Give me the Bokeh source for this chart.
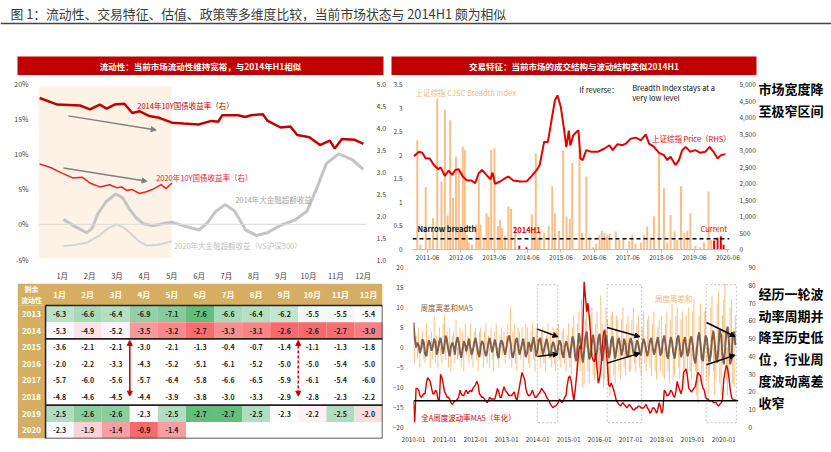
import pandas as pd
from bokeh.plotting import figure
from bokeh.models import (Range1d, LinearAxis, BoxAnnotation, Arrow, NormalHead, Span,
                          FixedTicker, NumeralTickFormatter, PrintfTickFormatter)
from bokeh.layouts import row, column
from bokeh.embed import file_html
from bokeh.resources import INLINE
from bokeh.core.properties import value

FONT = "Noto Sans CJK SC"

# ---------------- data ----------------
title_text = "图 1：流动性、交易特征、估值、政策等多维度比较，当前市场状态与 2014H1 颇为相似"
head_left = "流动性：当前市场流动性维持宽裕，与2014年H1相似"
head_right = "交易特征：当前市场的成交结构与波动结构类似2014H1"

month_labels = ["1月", "2月", "3月", "4月", "5月", "6月", "7月", "8月", "9月", "10月", "11月", "12月"]
pct_ticks = [-5, 0, 5, 10, 15, 20]
yld_ticks = [1.0, 1.5, 2.0, 2.5, 3.0, 3.5, 4.0, 4.5, 5.0]

# 2014 10Y yield (right axis), x = month position
y14_m = [0.17, 0.82, 1.65, 2.01, 2.37, 2.62, 2.91, 3.27, 3.56, 3.82, 4.18, 4.54, 5.01, 5.44, 5.98, 6.45, 6.70,
         6.85, 7.43, 7.68, 7.90, 8.33, 8.51, 8.98, 9.34, 9.59, 10.03, 10.42, 10.78, 10.96, 11.22, 11.69, 12.01]
y14_v = [4.67, 4.52, 4.50, 4.41, 4.52, 4.43, 4.52, 4.54, 4.33, 4.37, 4.26, 4.22, 4.11, 4.09, 4.07, 4.15, 4.13,
         4.28, 4.28, 4.24, 4.28, 4.30, 4.15, 4.00, 4.02, 3.83, 3.78, 3.60, 3.70, 3.52, 3.74, 3.72, 3.63]
# 2020 10Y yield (right axis)
y20_m = [0.17, 0.57, 0.93, 1.40, 1.72, 2.01, 2.37, 2.73, 2.99, 3.17, 3.35, 3.56, 3.82, 4.07, 4.29, 4.61, 4.79, 5.01]
y20_v = [3.17, 3.09, 2.98, 2.85, 2.87, 2.74, 2.65, 2.70, 2.63, 2.65, 2.57, 2.59, 2.50, 2.54, 2.59, 2.70, 2.61, 2.74]
# 2014 financials excess return (%)
f14_m = [1.04, 1.5, 1.9, 2.1, 2.3, 2.6, 2.95, 3.2, 3.45, 3.7, 3.95, 4.3, 4.7, 5.0, 5.5, 6.0, 6.3, 6.6, 6.95, 7.3,
         7.7, 8.1, 8.5, 9.0, 9.5, 9.95, 10.3, 10.65, 11.1, 11.6, 12.0]
f14_v = [0.7, -0.4, -1.2, -0.5, 1.5, 3.2, 4.3, 3.8, 2.2, 0.9, 0.1, -0.2, 0.1, 0.3, -0.3, -0.8, 0.2, 1.8, 2.8, 1.9,
         -0.8, -1.6, -1.2, -0.1, 0.6, 1.9, 5.1, 8.6, 10.0, 9.2, 7.8]
# 2020 financials excess return vs CSI300 (%)
f20_m = [1.04, 1.5, 1.9, 2.35, 2.7, 2.99, 3.25, 3.5, 3.8, 4.07, 4.5, 5.0]
f20_v = [-3.1, -2.9, -2.6, -1.6, -0.5, 0.0, -0.5, -1.3, -2.4, -3.0, -2.9, -2.4]

# residual liquidity table
tbl_years = ["2013", "2014", "2015", "2016", "2017", "2018", "2019", "2020"]
tbl_2013 = [-6.3, -6.6, -6.4, -6.9, -7.1, -7.6, -6.6, -6.4, -6.2, -5.5, -5.5, -5.4]
tbl_2014 = [-5.3, -4.9, -5.2, -3.5, -3.2, -2.7, -3.3, -3.1, -2.6, -2.6, -2.7, -3.0]
tbl_2015 = [-3.6, -2.1, -2.1, -3.0, -2.1, -1.3, -0.4, -0.7, -1.4, -1.1, -1.3, -1.8]
tbl_2016 = [-2.0, -2.2, -3.3, -4.3, -5.2, -5.1, -6.1, -5.2, -5.0, -5.0, -5.4, -5.0]
tbl_2017 = [-5.7, -6.0, -5.6, -5.7, -6.4, -5.8, -6.6, -6.5, -5.9, -6.1, -5.4, -6.0]
tbl_2018 = [-4.8, -4.6, -4.5, -4.4, -3.9, -3.8, -3.0, -3.3, -2.9, -2.8, -2.3, -2.2]
tbl_2019 = [-2.5, -2.6, -2.6, -2.3, -2.5, -2.7, -2.7, -2.5, -2.3, -2.2, -2.5, -2.0]
tbl_2020 = [-2.3, -1.9, -1.4, -0.9, -1.4]

# breadth index bars (left axis)
br_dates = ["2011-02-10", "2011-03-14", "2011-05-12", "2011-06-25", "2011-08-01", "2011-09-16", "2011-11-02", "2011-12-08",
            "2012-01-08", "2012-02-06", "2012-03-06", "2012-04-08", "2012-05-08", "2012-05-26", "2012-06-21", "2012-07-13",
            "2012-08-08", "2012-08-26", "2012-10-01", "2012-11-18", "2012-12-14",
            "2013-01-01", "2013-02-07", "2013-03-08", "2013-03-30", "2013-04-28", "2013-06-03", "2013-07-10", "2013-08-04",
            "2013-08-26", "2013-09-28", "2013-11-03", "2013-12-02",
            "2014-01-15", "2014-07-17", "2014-08-15", "2014-08-30", "2014-09-20", "2014-10-12", "2014-11-29",
            "2015-01-19", "2015-02-25", "2015-03-26", "2015-05-09", "2015-06-25", "2015-08-01", "2015-09-06", "2015-10-02",
            "2015-12-21",
            "2016-01-19", "2016-03-04", "2016-04-09", "2016-05-16", "2016-06-21", "2016-07-27", "2016-08-22", "2016-09-20",
            "2016-10-19", "2016-11-14",
            "2017-01-23", "2017-02-28", "2017-04-13", "2017-06-18", "2017-07-20", "2017-08-26", "2017-10-23", "2017-11-25",
            "2018-01-01", "2018-02-07", "2018-03-15", "2018-05-09", "2018-07-02", "2018-08-08", "2018-09-13", "2018-10-27",
            "2018-11-25",
            "2019-01-05", "2019-02-10", "2019-03-15", "2019-04-16", "2019-06-11", "2019-08-04", "2019-09-13", "2019-11-03",
            "2019-12-02"]
br_vals = [2.32, 0.10, 1.32, 0.25, 0.67, 3.20, 1.44, 2.97,
           0.72, 2.74, 1.10, 1.97, 1.72, 0.38, 2.18, 2.11, 0.30, 0.15, 0.10, 0.53, 1.51,
           0.53, 0.20, 0.77, 0.70, 2.11, 2.15, 0.50, 0.63, 0.45, 0.28, 0.91, 0.86,
           0.49, 0.74, 0.38, 2.04, 0.25, 0.38, 0.35,
           0.50, 1.34, 0.77, 0.40, 2.10, 0.70, 0.65, 1.84, 2.11,
           0.35, 1.55, 0.26, 0.05, 0.12, 0.30, 0.40, 0.35, 0.30, 0.33,
           0.38, 0.20, 0.25, 0.18, 0.30, 0.12, 0.15, 0.30,
           0.49, 0.25, 0.70, 2.07, 1.30, 0.15, 0.73, 0.38, 0.20,
           1.34, 0.35, 0.40, 0.77, 0.08, 0.05, 0.15, 1.23, 0.20]
br_red_dates = ["2014-03-01", "2014-05-20", "2020-01-03", "2020-02-10", "2020-03-16", "2020-04-15"]
br_red_vals = [0.08, 0.05, 0.19, 0.25, 0.28, 0.10]
narrow_level = 0.23

# Shanghai composite price (right axis)
px_dates = ["2011-01-05", "2011-02-28", "2011-04-05", "2011-05-12", "2011-06-25", "2011-08-10", "2011-09-27", "2011-10-23", "2011-12-08",
            "2012-01-20", "2012-02-25", "2012-04-01", "2012-05-08", "2012-06-21", "2012-08-08", "2012-09-24", "2012-11-06", "2012-12-14",
            "2013-01-20", "2013-02-25", "2013-04-20", "2013-05-12", "2013-06-10", "2013-08-04", "2013-09-28", "2013-11-03", "2013-12-28",
            "2014-03-10", "2014-05-23", "2014-07-17", "2014-09-10", "2014-10-12", "2014-11-29",
            "2015-01-10", "2015-02-18", "2015-03-26", "2015-04-23", "2015-05-30", "2015-07-01", "2015-07-30", "2015-08-26",
            "2015-09-12", "2015-10-12", "2015-11-18", "2015-12-10",
            "2016-01-01", "2016-01-26", "2016-03-04", "2016-04-28", "2016-07-08", "2016-09-20", "2016-11-14", "2016-12-20",
            "2017-02-10", "2017-04-05", "2017-05-12", "2017-07-05", "2017-08-30", "2017-10-23", "2017-12-16",
            "2018-01-22", "2018-03-15", "2018-05-09", "2018-07-02", "2018-08-08", "2018-09-13", "2018-11-06", "2018-12-14",
            "2019-01-20", "2019-02-25", "2019-04-16", "2019-06-11", "2019-08-04", "2019-09-28", "2019-11-14", "2019-12-28",
            "2020-02-10", "2020-03-18", "2020-05-05"]
px_vals = [2830, 2960, 2932, 2760, 2760, 2560, 2430, 2490, 2230,
           2390, 2260, 2410, 2430, 2210, 2090, 2090, 2010, 2310,
           2410, 2290, 2130, 2330, 1990, 2060, 2160, 2210, 2090,
           2060, 2070, 2230, 2410, 2560, 3260,
           3260, 3920, 4520, 4670, 4320, 3700, 3100, 3600, 3150, 3450, 3560, 3610,
           2760, 2710, 3010, 2960, 2960, 3060, 3160, 3010,
           3190, 3160, 3210, 3360, 3390, 3310, 3490,
           3210, 3110, 2930, 2860, 2710, 2810, 2560, 2710,
           3010, 3110, 2960, 3010, 2930, 2960, 3110, 2960,
           2760, 2860, 2890]

# weekly-style series, sampled twice a month from 2010-01
disp_start = "2010-01-01"
disp_sum = [6, -4, 3, -3, 5, -5, 2, 4, -3, -4, 6, -2, 3, -5, 4, -3, 8, -4, 3, -5, 5, -2, -4, 6,
            8, -3, 4, -5, 5, -6, 3, 4, -4, 7, -3, -2, 5, -5, 4, -6, 6, -2, 3, -4, 6, -3, -5, 4,
            5, -3, -6, 4, 5, -2, -5, 4, 6, -4, 3, -5, 5, -3, -6, 4, 6, -3, -5, 3, 5, -2, 4, -4,
            3, 6, -3, 10, -5, 4, 6, -4, -6, 5, 4, -3, 5, -6, -2, 6, 5, -4, -5, 4, 6, -3, -6, 5,
            6, -2, -5, 4, 5, -4, -6, 3, 6, -3, 4, -5, 5, -4, -6, 5, 6, -3, -5, 4, 5, -4, -6, 3,
            6, -5, -7, 5, 8, -4, -8, 6, 9, -6, 12, -10, -9, 7, 11, -6, -9, 8, 10, -7, -8, 6, 9, -7,
            -9, 13, 6, -10, -8, 10, 7, -8, -12, 8, 9, -7, -9, 8, 7, -6, -8, 7, 10, -5, -7, 6, 8, -6,
            -6, 7, 10, -4, -6, 6, 8, -5, -7, 5, 9, -4, -6, 7, 8, -5, -7, 6, 9, -6, -8, 5, 7, -6,
            8, -7, -8, 6, 9, -6, -9, 7, 11, -8, -7, 8, 10, -5, -8, 7, 9, -6, -9, 8, -7, 10, -6, -8,
            9, 12, -6, -12, -14, 8, 11, -7, -9, 9, 10, -8, -12, -7, 10, 13, -6, -12, -8, 11, 14, -9, -12, 8,
            12, 16, -8, -12, -7, 10, 12, -9, -10, 8]
disp_ma5 = [6.3, 2.5, 0.0, 1.2, 0.6, -1.4, -0.2, 2.0, 1.2, -1.6, -2.2, 0.4, 1.8, 0.8, -0.8, 0.2, 2.2, 1.4, -1.8, -0.6, 1.6, 2.4, 0.2, -1.6,
            0.6, 3.0, 1.6, -0.8, -2.2, 0.2, 1.2, 0.4, -1.8, 1.0, 2.6, 1.4, -1.2, -2.6, -0.4, 1.6, 0.6, -1.0, 0.8, 2.2, -0.2, -1.8, -0.6, 1.2,
            2.4, 0.8, -1.4, -2.4, 0.4, 1.6, 1.0, -0.6, -2.2, -1.2, 1.4, 2.4, 0.2, -1.2, 0.6, 2.0, 0.4, -2.0, -2.6, 0.6, 1.8, 1.2, -0.6, -1.8,
            0.2, 2.0, 3.0, 1.4, -1.6, -2.6, -0.8, 1.6, 2.4, 0.4, -1.8, -0.6, 1.0, 2.2, -0.4, -2.4, -1.2, 1.4, 0.6, -1.0, 1.2, 2.6, 0.2, -2.2,
            -0.6, 1.8, 2.4, 0.2, -1.8, -0.8, 1.0, 2.2, 0.6, -1.6, -2.4, 0.2, 1.4, 0.6, -1.2, -2.0, 0.4, 1.8, 1.0, -1.4, -2.6, 0.0, 1.6, 0.8,
            -1.2, -2.6, 0.4, 2.8, 1.6, -2.0, -3.4, 0.2, 3.6, 2.0, -1.6, -3.8, -0.8, 2.6, 4.0, 0.6, -3.0, -2.2, 1.4, 3.2, 0.8, -2.6, -1.0, 2.2,
            3.4, -0.4, -3.4, -1.6, 2.0, 3.2, 0.6, -2.6, -1.4, 1.8, 2.8, -0.2, -2.8, -1.0, 1.6, 2.4, 0.2, -2.0, -0.4, 2.2, 1.0, -1.8, -2.4, 0.8,
            2.4, 1.2, -1.2, -2.2, 0.4, 1.8, 0.8, -1.4, -2.0, 0.6, 2.2, 1.2, -0.8, -2.2, -0.6, 1.6, 2.4, 0.2, -1.8, -0.8, 1.2, 2.6, 0.4, -2.0,
            -1.2, 1.6, 3.0, 0.8, -2.0, -2.8, 0.4, 2.6, 1.4, -1.2, -2.8, -0.6, 2.2, 3.0, 0.2, -2.4, -1.4, 1.4, 2.6, 0.4, -2.2, -1.0, 1.8, 2.8,
            0.6, -2.6, -4.0, -1.2, 2.4, 3.8, 1.0, -2.8, -3.4, 0.2, 3.0, 2.2, -1.4, -3.6, -1.8, 2.0, 4.2, 1.2, -2.8, -3.8, 0.4, 4.4, 3.0, -1.8,
            -4.2, -1.0, 3.8, 5.2, 1.4, -4.2, -2.8, 2.8, 4.0, 0.6]
vol_ma5 = [15, 3, 22, 22, 21, 18, 17, 18, 19, 19, 25, 28, 27, 26, 22, 19, 19, 21, 20, 16, 15, 30, 28, 25,
           20, 19, 17, 17, 16, 14, 13, 14, 15, 15, 16, 17, 21, 19, 18, 18, 20, 21, 19, 20, 21, 20, 22, 23,
           24, 26, 24, 19, 18, 17, 17, 16, 15, 14, 15, 17, 16, 16, 16, 16, 19, 22, 20, 17, 17, 20, 23, 21,
           20, 19, 18, 18, 18, 19, 20, 17, 15, 19, 23, 27, 31, 29, 27, 22, 19, 18, 18, 19, 21, 19, 17, 17,
           18, 19, 20, 22, 21, 20, 19, 17, 16, 15, 13, 12, 11, 12, 12, 13, 14, 16, 15, 14, 15, 17, 18, 24,
           28, 29, 26, 20, 15, 20, 28, 35, 44, 46, 44, 55, 82, 74, 65, 70, 62, 53, 40, 38, 37, 42, 33, 25,
           28, 33, 45, 53, 55, 45, 35, 24, 23, 25, 23, 21, 18, 15, 14, 13, 12, 13, 14, 13, 12, 11, 12, 13,
           12, 11, 10, 10, 11, 11, 12, 12, 11, 11, 11, 12, 13, 11, 10, 8, 9, 11, 11, 10, 8, 10, 14, 12,
           8, 10, 21, 20, 18, 18, 19, 21, 20, 18, 17, 20, 26, 23, 21, 19, 22, 31, 32, 33, 28, 22, 21, 20,
           21, 22, 23, 27, 31, 30, 29, 25, 22, 21, 17, 16, 16, 15, 15, 15, 14, 14, 14, 13, 12, 13, 14, 15,
           27, 31, 35, 33, 28, 22, 17, 16, 15, 16]
vol_floor = 15

# ---------------- helpers ----------------
def mi(dates):
    d = pd.to_datetime(pd.Series(dates))
    return ((d.dt.year - 2010) * 12 + d.dt.month - 1 + (d.dt.day - 1) / d.dt.days_in_month).tolist()


def mk(w, h, xr, yr, l=0, r=0, t=0, b=0, axes=False):
    opts = dict(width=w, height=h, x_range=xr, y_range=yr, output_backend="svg",
                toolbar_location=None, min_border_left=l, min_border_right=r,
                min_border_top=t, min_border_bottom=b)
    if not axes:
        opts.update(x_axis_location=None, y_axis_location=None)
    p = figure(**opts)
    p.frame_align = False
    p.outline_line_color = None
    p.xgrid.visible = False
    p.ygrid.visible = False
    p.border_fill_color = "white"
    return p


def txt(p, x, y, s, size="7.5px", color="#333333", align="left", baseline="middle", bold=False, rng="default"):
    p.text(x=[x], y=[y], text=[s], text_font=value(FONT), text_font_size=size, text_color=color,
           text_align=align, text_baseline=baseline, text_font_style="bold" if bold else "normal",
           y_range_name=rng)


def style(ax, size="7px", standoff=4):
    ax.axis_line_color = None
    ax.major_tick_line_color = None
    ax.minor_tick_line_color = None
    ax.major_label_text_font = FONT
    ax.major_label_text_font_size = size
    ax.major_label_text_color = "#404040"
    ax.major_label_standoff = standoff


RED = "#e00000"
DARKRED = "#c00000"
ORANGE = "#f9bd85"
TAN = "#d6ae62"

# ---------------- title ----------------
pt_title = mk(831, 56, Range1d(0, 831), Range1d(56, 0))
txt(pt_title, 10, 13, title_text, size="12.8px", color="#3a3a3a")
pt_title.add_layout(Span(location=23, dimension="width", line_color="#444444", line_width=1.5))

# ---------------- left header ----------------
hl = mk(389, 19, Range1d(0, 1), Range1d(0, 1), l=17, r=6)
hl.background_fill_color = DARKRED
txt(hl, 0.5, 0.5, head_left, size="8.5px", color="white", align="center", bold=True)

# ---------------- left chart ----------------
pl = mk(389, 208, Range1d(0.13, 12.12), Range1d(-5, 20), l=38, r=19, t=8, b=15, axes=True)
pl.extra_y_ranges = {"yld": Range1d(1.0, 5.0)}
pl.add_layout(LinearAxis(y_range_name="yld", ticker=FixedTicker(ticks=yld_ticks),
                         formatter=PrintfTickFormatter(format="%.1f")), "right")
pl.yaxis[0].ticker = FixedTicker(ticks=pct_ticks)
pl.yaxis[0].major_label_overrides = {t: f"{t}%" for t in pct_ticks}
pl.xaxis.ticker = FixedTicker(ticks=list(range(1, 13)))
pl.xaxis.major_label_overrides = {i + 1: m for i, m in enumerate(month_labels)}
for ax in list(pl.xaxis) + list(pl.yaxis):
    style(ax)
pl.xaxis.major_label_text_font_size = "7.5px"
pl.add_layout(BoxAnnotation(left=0.13, right=5.0, top=19.6, bottom=-4.8, fill_color="#fdf2e5",
                            fill_alpha=1, line_color=None, level="underlay"))
pl.add_layout(Span(location=0, dimension="width", line_color="#d9d9d9", line_width=1))
pl.line(f20_m, f20_v, line_color="#d4d4d4", line_width=2)
pl.line(f14_m, f14_v, line_color="#c4c4c4", line_width=3)
pl.line(y14_m, y14_v, y_range_name="yld", line_color=DARKRED, line_width=2.5)
pl.line(y20_m, y20_v, y_range_name="yld", line_color="#e4242a", line_width=1.5)
for xs, ys, xe, ye in [(1.22, 15.4, 4.43, 13.4), (1.04, 8.0, 4.1, 6.1)]:
    pl.add_layout(Arrow(end=NormalHead(size=5, fill_color="#808080", line_color="#808080"),
                        x_start=xs, y_start=ys, x_end=xe, y_end=ye, line_color="#808080", line_width=1.5))
txt(pl, 3.74, 16.9, "2014年10Y国债收益率（右）", color=DARKRED)
txt(pl, 4.43, 6.6, "2020年10Y国债收益率（右）", color="#e4242a")
txt(pl, 7.32, 3.5, "2014年大金融超额收益", color="#a6a6a6")
txt(pl, 5.08, -3.0, "2020年大金融超额收益（VS沪深300）", color="#bfbfbf")

# ---------------- table ----------------
tb = mk(389, 169, Range1d(0, 13), Range1d(8, -1.33), l=17, r=7, t=0, b=14)
tb.quad(left=[0], right=[13], top=[-1.33], bottom=[0], fill_color=TAN, line_color=None)
tb.quad(left=[0], right=[1], top=[0], bottom=[8], fill_color=TAN, line_color=None)
rows = [tbl_2013, tbl_2014, tbl_2015, tbl_2016, tbl_2017, tbl_2018, tbl_2019, tbl_2020]


def interp(c0, c1, t):
    t = max(0.0, min(1.0, t))
    return "#%02x%02x%02x" % tuple(int(round(a + (b - a) * t)) for a, b in zip(c0, c1))


GREEN, WHITE, REDC = (99, 190, 123), (252, 252, 255), (248, 105, 107)


def scale_colors(vals):
    s = sorted(vals)
    lo, hi = s[0], s[-1]
    n = len(s)
    mid = s[n // 2] if n % 2 else (s[n // 2 - 1] + s[n // 2]) / 2
    out = []
    for v in vals:
        if v <= mid:
            out.append(interp(WHITE, GREEN, (mid - v) / (mid - lo) if mid > lo else 0))
        else:
            out.append(interp(WHITE, REDC, (v - mid) / (hi - mid) if hi > mid else 0))
    return out


grp1 = scale_colors(tbl_2013 + tbl_2014)
grp2 = scale_colors(tbl_2019 + tbl_2020)
cell_colors = [grp1[:12], grp1[12:], None, None, None, None, grp2[:12], grp2[12:]]
cl, cr, ct, cb, cc, tx, ty, tt = [], [], [], [], [], [], [], []
for i, vals in enumerate(rows):
    for j, v in enumerate(vals):
        cl.append(j + 1); cr.append(j + 2); ct.append(i); cb.append(i + 1)
        cc.append(cell_colors[i][j] if cell_colors[i] else "#ffffff")
        tx.append(j + 1.5); ty.append(i + 0.5); tt.append(f"{v:.1f}")
tb.quad(left=cl, right=cr, top=ct, bottom=cb, fill_color=cc, line_color=None)
tb.text(x=tx, y=ty, text=tt, text_font=value(FONT), text_font_size="7px", text_color="#1a1a1a",
        text_font_style="bold", text_align="center", text_baseline="middle")
tb.text(x=[j + 1.5 for j in range(12)], y=[-0.66] * 12, text=month_labels, text_font=value(FONT),
        text_font_size="8px", text_color="white", text_font_style="bold", text_align="center", text_baseline="middle")
tb.text(x=[0.5] * 8, y=[i + 0.5 for i in range(8)], text=tbl_years, text_font=value(FONT),
        text_font_size="8px", text_color="white", text_font_style="bold", text_align="center", text_baseline="middle")
tb.text(x=[0.5, 0.5], y=[-0.98, -0.36], text=["剩余", "流动性"], text_font=value(FONT),
        text_font_size="7px", text_color="white", text_font_style="bold", text_align="center", text_baseline="middle")
tb.quad(left=[1, 1, 1], right=[13, 13, 13], top=[0, 2, 6], bottom=[2, 6, 8], fill_color=None,
        line_color="#222222", line_width=1.5)
tb.add_layout(Arrow(start=NormalHead(size=5, fill_color=DARKRED, line_color=DARKRED),
                    end=NormalHead(size=5, fill_color=DARKRED, line_color=DARKRED),
                    x_start=4, y_start=2.1, x_end=4, y_end=5.45, line_color=DARKRED, line_width=1.5))
tb.add_layout(Arrow(start=NormalHead(size=5, fill_color=DARKRED, line_color=DARKRED),
                    end=NormalHead(size=5, fill_color=DARKRED, line_color=DARKRED),
                    x_start=10, y_start=2.1, x_end=10, y_end=5.45, line_color=DARKRED, line_width=1.5,
                    line_dash="3 2"))

# ---------------- right header ----------------
hr = mk(369, 19, Range1d(0, 1), Range1d(0, 1), l=2, r=2)
hr.background_fill_color = DARKRED
txt(hr, 0.5, 0.5, head_right, size="8.5px", color="white", align="center", bold=True)

# ---------------- right top chart ----------------
pr = mk(369, 187, Range1d(11.6, 125.6), Range1d(0, 3.5), l=23, r=27, t=9, b=12, axes=True)
pr.extra_y_ranges = {"px": Range1d(0, 5000)}
pr.add_layout(LinearAxis(y_range_name="px", ticker=FixedTicker(ticks=list(range(0, 5001, 500))),
                         formatter=NumeralTickFormatter(format="0,0")), "right")
left_ticks = [0, 0.5, 1, 1.5, 2, 2.5, 3, 3.5]
pr.yaxis[0].ticker = FixedTicker(ticks=left_ticks)
pr.yaxis[0].major_label_overrides = {t: f"{t:g}" for t in left_ticks}
top_years = list(range(2011, 2021))
pr.xaxis.ticker = FixedTicker(ticks=[(y - 2010) * 12 + 5 for y in top_years])
pr.xaxis.major_label_overrides = {(y - 2010) * 12 + 5: f"{y}-06" for y in top_years}
for ax in list(pr.xaxis) + list(pr.yaxis):
    style(ax, size="6.5px")
pr.xaxis.axis_line_color = "#bfbfbf"
pr.xaxis.major_tick_line_color = "#bfbfbf"
pr.xaxis.major_tick_out = 3
pr.xaxis.major_tick_in = 0
pr.xaxis.major_label_standoff = 2
pr.vbar(x=mi(br_dates), top=br_vals, width=0.7, fill_color=ORANGE, line_color=None)
pr.vbar(x=mi(br_red_dates), top=br_red_vals, width=0.7, fill_color=RED, line_color=None)
pr.line(mi(px_dates), px_vals, y_range_name="px", line_color=RED, line_width=2)
pr.add_layout(Span(location=narrow_level, dimension="width", line_color="black", line_width=1.5, line_dash="4 3"))
txt(pr, 12.7, 3.33, "上证综指 CJSC Breadth Index", color="#f6b47a")
txt(pr, 71.6, 3.40, "If reverse：", color="#111111")
txt(pr, 90.6, 3.44, "Breadth Index stays at a", color="#111111")
txt(pr, 90.6, 3.23, "very low level", color="#111111")
txt(pr, 97.7, 2.36, "上证综指 Price（RHS）", color=RED)
txt(pr, 13.4, 0.44, "Narrow breadth", color="#111111", bold=True)
txt(pr, 47.7, 0.42, "2014H1", color=RED, bold=True)
txt(pr, 115.2, 0.44, "Current", color=RED)

# ---------------- right bottom chart ----------------
pb = mk(369, 190, Range1d(0, 125.7), Range1d(-20, 20), l=21, r=18, t=5, b=25, axes=True)
pb.extra_y_ranges = {"vol": Range1d(0, 90)}
pb.add_layout(LinearAxis(y_range_name="vol", ticker=FixedTicker(ticks=list(range(0, 91, 10)))), "right")
pb.yaxis[0].ticker = FixedTicker(ticks=list(range(-20, 21, 5)))
bot_years = list(range(2010, 2021))
pb.xaxis.ticker = FixedTicker(ticks=[(y - 2010) * 12 for y in bot_years])
pb.xaxis.major_label_overrides = {(y - 2010) * 12: f"{y}-01" for y in bot_years}
for ax in list(pb.xaxis) + list(pb.yaxis):
    style(ax, size="6.5px")
pb.xaxis.major_label_standoff = 3
sx = mi(pd.date_range(disp_start, periods=len(disp_sum), freq="SMS").strftime("%Y-%m-%d"))
pb.vbar(x=sx, top=disp_sum, bottom=0, width=0.32, fill_color="#f8b46c", line_color=None)
pb.line(sx, disp_ma5, line_color="#80604a", line_width=2)
pb.line(sx, vol_ma5, y_range_name="vol", line_color="#d20000", line_width=1.4)
pb.add_layout(Span(location=vol_floor, dimension="width", y_range_name="vol", line_color="black", line_width=1.5))
for l_, r_ in [(47.9, 55.8), (74.9, 88.2), (113.2, 124.9)]:
    pb.add_layout(BoxAnnotation(left=l_, right=r_, top=15.7, bottom=-18.8, fill_alpha=0,
                                line_color="#555555", line_width=1.2, line_dash="2 2"))
for xs, ys, xe, ye in [(47.9, 4.6, 55.9, 2.7), (47.9, -2.25, 55.9, -1.65),
                       (74.9, 5.0, 87.6, 2.7), (74.9, -3.9, 87.6, -1.4),
                       (113.3, 6.25, 124.4, 2.75), (113.3, -4.3, 124.4, -1.9)]:
    pb.add_layout(Arrow(end=NormalHead(size=5, fill_color="black", line_color="black"),
                        x_start=xs, y_start=ys, x_end=xe, y_end=ye, line_color="black", line_width=1.5))
txt(pb, 2.7, 10, "周度离差和MA5", color="#80604a")
txt(pb, 93.4, 12.2, "周度离差和", color="#f6b47a")
txt(pb, 3.0, -17.6, "全A周度波动率MA5（年化）", color="#d20000")

# ---------------- side text ----------------
ps = mk(73, 396, Range1d(0, 73), Range1d(396, 0))
side1 = ["市场宽度降", "至极窄区间"]
side2 = ["经历一轮波", "动率周期并", "降至历史低", "位，行业周", "度波动离差", "收窄"]
ps.text(x=[0] * 2, y=[32, 54], text=side1, text_font=value(FONT), text_font_size="13px",
        text_color="black", text_font_style="bold", text_baseline="middle")
ps.text(x=[0] * 6, y=[237 + 21.7 * k for k in range(6)], text=side2, text_font=value(FONT),
        text_font_size="13px", text_color="black", text_font_style="bold", text_baseline="middle")

layout = column(pt_title,
                row(column(hl, pl, tb, spacing=0), column(hr, pr, pb, spacing=0), ps, spacing=0),
                spacing=0)

open("out.html", "w").write(file_html(layout, INLINE))
